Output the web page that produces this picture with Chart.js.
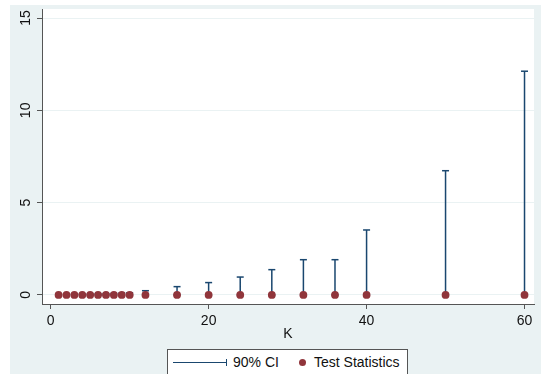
<!DOCTYPE html>
<html>
<head>
<meta charset="utf-8">
<script src="https://cdn.jsdelivr.net/npm/chart.js@4.4.1/dist/chart.umd.min.js"></script>
<style>
    html, body { margin: 0; padding: 0; background: #fff; overflow: hidden; }
    #wrap { position: relative; width: 541px; height: 374px; }
    #legend {
        position: absolute; left: 167px; top: 349px; width: 241px; height: 40px;
        border: 1px solid #555; background: #fff; box-sizing: border-box;
        font-family: "Liberation Sans", Arial, sans-serif; font-size: 14px; color: #111;
    }
    #legend .ln { position: absolute; left: 5px; top: 11.5px; width: 53px; height: 1.5px; background: #1a476f; }
    #legend .cap { position: absolute; left: 57.5px; top: 9px; width: 1.5px; height: 7px; background: #1a476f; }
    #legend .dot { position: absolute; left: 131px; top: 9px; width: 7px; height: 7px; border-radius: 50%; background: #90353b; }
    #legend .txt { position: absolute; top: 4px; line-height: 16px; white-space: nowrap; }
</style>
</head>
<body>
<div id="wrap">
    <canvas id="kChart" width="541" height="374"></canvas>
    <div id="legend">
        <div class="ln"></div><div class="cap"></div>
        <span class="txt" style="left:65px">90% CI</span>
        <div class="dot"></div>
        <span class="txt" style="left:146px">Test Statistics</span>
    </div>
</div>
<script>
const kValues = [1, 2, 3, 4, 5, 6, 7, 8, 9, 10, 12, 16, 20, 24, 28, 32, 36, 40, 50, 60];
const testStats = [0, 0, 0, 0, 0, 0, 0, 0, 0, 0, 0, 0, 0, 0, 0, 0, 0, 0, 0, 0];
const ciLower = [0, 0, 0, 0, 0, 0, 0, 0, 0, 0, 0, 0, 0, 0, 0, 0, 0, 0, 0, 0];
const ciUpper = [0.02, 0.03, 0.03, 0.04, 0.05, 0.06, 0.07, 0.08, 0.1, 0.12,
    0.23, 0.45, 0.67, 0.97, 1.37, 1.91, 1.91, 3.52, 6.73, 12.12];
const xTicks = [0, 20, 40, 60];
const yTicks = [0, 5, 10, 15];

const navy = "#1a476f";
const maroon = "#90353b";
const panelBg = "#eaf2f3";
const fontFamily = "'Liberation Sans', Arial, sans-serif";

// vertical CI segments, broken by null points
const ciSegments = [];
kValues.forEach(function (k, i) {
    ciSegments.push({ x: k, y: ciLower[i] });
    ciSegments.push({ x: k, y: ciUpper[i] });
    ciSegments.push({ x: k, y: null });
});

const stataLook = {
    id: "stataLook",
    beforeDraw: function (chart) {
        const ctx = chart.ctx;
        const a = chart.chartArea;
        ctx.save();
        ctx.fillStyle = "#fff";
        ctx.fillRect(0, 0, chart.width, chart.height);
        ctx.fillStyle = panelBg;
        ctx.fillRect(10, 5, chart.width - 10, chart.height - 5);
        ctx.fillStyle = "#fff";
        ctx.fillRect(a.left, a.top, a.right - a.left, a.bottom - a.top);
        ctx.restore();
    },
    afterDraw: function (chart) {
        const ctx = chart.ctx;
        const ys = chart.scales.y;
        const a = chart.chartArea;
        ctx.save();
        ctx.fillStyle = "#111";
        ctx.font = "14px " + fontFamily;
        ctx.textAlign = "center";
        ctx.textBaseline = "middle";
        yTicks.forEach(function (v) {
            ctx.save();
            ctx.translate(26, ys.getPixelForValue(v));
            ctx.rotate(-Math.PI / 2);
            ctx.fillText(String(v), 0, 0);
            ctx.restore();
        });
        ctx.fillText("K", (a.left + a.right) / 2, 334);
        ctx.restore();
    },
};

new Chart(document.getElementById("kChart"), {
    type: "scatter",
    data: {
        datasets: [
            {
                label: "Test Statistics",
                data: kValues.map(function (k, i) { return { x: k, y: testStats[i] }; }),
                backgroundColor: maroon,
                borderColor: maroon,
                pointRadius: 3.9,
                borderWidth: 0,
            },
            {
                label: "90% CI caps",
                data: kValues.map(function (k, i) { return { x: k, y: ciUpper[i] }; })
                    .concat(kValues.map(function (k, i) { return { x: k, y: ciLower[i] }; })),
                pointStyle: "line",
                pointRadius: 3.5,
                borderColor: navy,
                borderWidth: 1.5,
            },
            {
                label: "90% CI",
                data: ciSegments,
                showLine: true,
                spanGaps: false,
                borderColor: navy,
                borderWidth: 1.5,
                pointRadius: 0,
            },
        ],
    },
    options: {
        responsive: false,
        animation: false,
        layout: { padding: { left: 0, top: 9, right: 7, bottom: 0 } },
        plugins: {
            legend: { display: false },
            tooltip: { enabled: false },
        },
        scales: {
            x: {
                type: "linear",
                min: -1.1,
                max: 61.2,
                afterBuildTicks: function (s) { s.ticks = xTicks.map(function (v) { return { value: v }; }); },
                afterFit: function (s) { s.height = 70; },
                grid: { drawOnChartArea: false, drawTicks: true, tickLength: 5, tickColor: "#555" },
                border: { display: true, color: "#555", width: 1 },
                ticks: {
                    padding: 4,
                    color: "#111",
                    maxRotation: 0,
                    font: { family: fontFamily, size: 14 },
                },
            },
            y: {
                type: "linear",
                min: -0.49,
                max: 15.49,
                afterBuildTicks: function (s) { s.ticks = yTicks.map(function (v) { return { value: v }; }); },
                afterFit: function (s) { s.width = 42; },
                grid: { color: panelBg, lineWidth: 1, drawTicks: true, tickLength: 5, tickColor: "#555" },
                border: { display: true, color: "#555", width: 1 },
                ticks: { display: false },
            },
        },
    },
    plugins: [stataLook],
});
</script>
</body>
</html>
